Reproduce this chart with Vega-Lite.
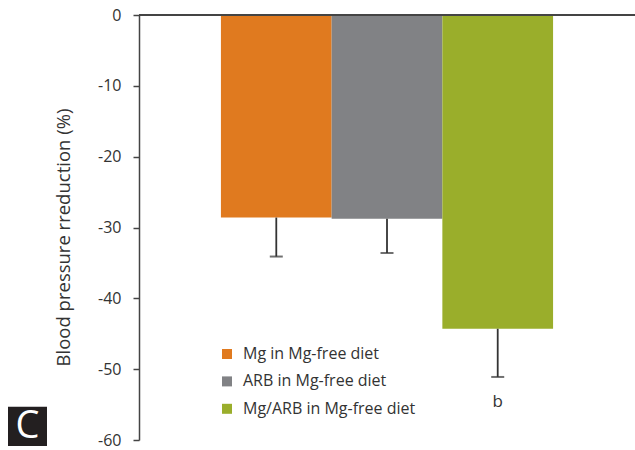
{
  "$schema": "https://vega.github.io/schema/vega-lite/v6.json",
  "background": "white",
  "padding": {"left": 8, "top": 7, "right": 0, "bottom": 12},
  "config": {"view": {"stroke": null}, "font": "Open Sans"},
  "bounds": "flush",
  "spacing": 92,
  "resolve": {"scale": {"y": "shared"}, "legend": {"color": "independent"}},
  "datasets": {
    "bars": [
      {"group": "Mg in Mg-free diet", "value": -28.6, "lower": -34.1, "label": ""},
      {"group": "ARB in Mg-free diet", "value": -28.75, "lower": -33.6, "label": ""},
      {"group": "Mg/ARB in Mg-free diet", "value": -44.3, "lower": -51.1, "label": "b"}
    ],
    "panel": [{"letter": "C", "top": -55.3, "bottom": -60.85, "mid": -58.1}]
  },
  "hconcat": [
    {
      "width": 39,
      "height": 425,
      "data": {"name": "panel"},
      "layer": [
        {
          "mark": {"type": "rect", "color": "#231f20"},
          "encoding": {
            "y": {"field": "top", "type": "quantitative", "scale": {"domain": [-60, 0], "nice": false}, "axis": null},
            "y2": {"field": "bottom"}
          }
        },
        {
          "mark": {"type": "text", "color": "white", "fontSize": 38, "baseline": "middle", "align": "center"},
          "encoding": {
            "y": {"field": "mid", "type": "quantitative", "axis": null},
            "text": {"field": "letter"}
          }
        }
      ]
    },
    {
      "width": 496,
      "height": 425,
      "data": {"name": "bars"},
      "layer": [
        {
          "mark": {"type": "bar"},
          "encoding": {
            "x": {"field": "group", "type": "nominal", "sort": ["Mg in Mg-free diet", "ARB in Mg-free diet", "Mg/ARB in Mg-free diet"], "scale": {"paddingInner": 0, "paddingOuter": 0.74}, "axis": null},
            "y": {
              "field": "value", "type": "quantitative",
              "scale": {"domain": [-60, 0], "nice": false},
              "axis": {
                "title": "Blood pressure rreduction (%)",
                "values": [0, -10, -20, -30, -40, -50, -60],
                "labelExpr": "replace(datum.label, '\u2212', '-')",
                "grid": false,
                "labelFontSize": 16, "labelColor": "#333333", "labelPadding": 12,
                "tickSize": 6, "tickColor": "#444444", "tickWidth": 1.5,
                "domainColor": "#444444", "domainWidth": 1.5,
                "titleFontSize": 18.5, "titleFontWeight": "normal", "titleColor": "#333333", "titlePadding": 24,
                "titleY": 222
              }
            },
            "color": {
              "field": "group", "type": "nominal",
              "sort": ["Mg in Mg-free diet", "ARB in Mg-free diet", "Mg/ARB in Mg-free diet"],
              "scale": {"domain": ["Mg in Mg-free diet", "ARB in Mg-free diet", "Mg/ARB in Mg-free diet"], "range": ["#E07A1F", "#818285", "#9AAE2B"]},
              "legend": {
                "orient": "none", "legendX": 80, "legendY": 331, "title": null, "padding": 0,
                "symbolType": "square", "symbolSize": 100, "symbolStrokeWidth": 0, "symbolOpacity": 1,
                "labelFontSize": 16, "labelColor": "#333333", "labelOffset": 8, "rowPadding": 11.4, "labelLimit": 400
              }
            }
          }
        },
        {
          "mark": {"type": "rule", "color": "#333333", "strokeWidth": 1.8},
          "encoding": {
            "x": {"field": "group", "type": "nominal", "sort": ["Mg in Mg-free diet", "ARB in Mg-free diet", "Mg/ARB in Mg-free diet"]},
            "y": {"field": "value", "type": "quantitative"},
            "y2": {"field": "lower"}
          }
        },
        {
          "mark": {"type": "tick", "orient": "horizontal", "color": "#333333", "size": 13, "thickness": 2},
          "encoding": {
            "x": {"field": "group", "type": "nominal", "sort": ["Mg in Mg-free diet", "ARB in Mg-free diet", "Mg/ARB in Mg-free diet"]},
            "y": {"field": "lower", "type": "quantitative"}
          }
        },
        {
          "mark": {"type": "text", "dy": 25, "fontSize": 17, "color": "#333333", "baseline": "middle"},
          "encoding": {
            "x": {"field": "group", "type": "nominal", "sort": ["Mg in Mg-free diet", "ARB in Mg-free diet", "Mg/ARB in Mg-free diet"]},
            "y": {"field": "lower", "type": "quantitative"},
            "text": {"field": "label"}
          }
        },
        {
          "mark": {"type": "rule", "color": "#444444", "strokeWidth": 2},
          "encoding": {"y": {"datum": 0}}
        }
      ]
    }
  ]
}
